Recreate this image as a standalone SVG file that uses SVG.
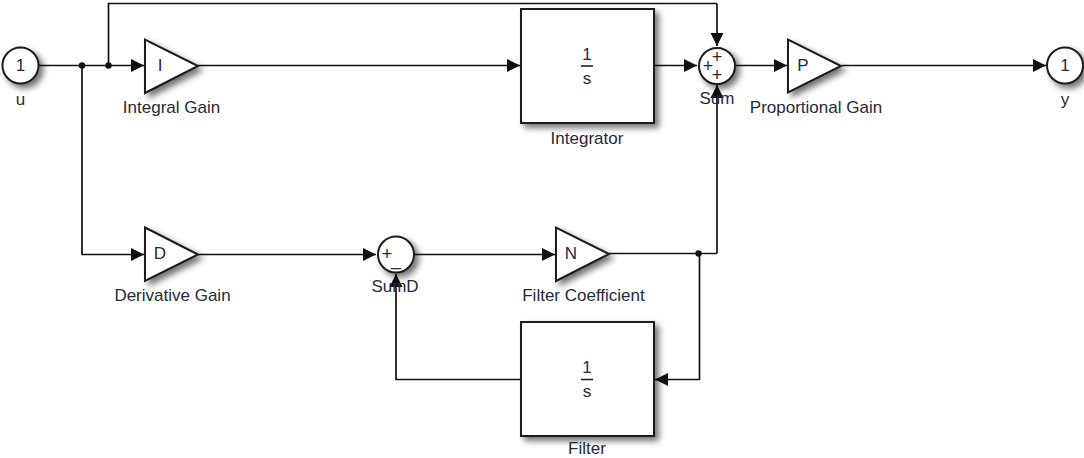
<svg xmlns="http://www.w3.org/2000/svg" width="1084" height="458" viewBox="0 0 1084 458">
<style>
text{font-family:"Liberation Sans",Arial,sans-serif;font-size:17px;fill:#262a3a;text-anchor:middle}
.b{fill:#fff;stroke:#1c1c1c;stroke-width:2;filter:url(#sh)}
.w{fill:none;stroke:#111;stroke-width:1.7;stroke-linejoin:miter}
.a{marker-end:url(#ah)}
.d{fill:#111}
.f{stroke:#222;stroke-width:1.6}
.m{font-size:18px}
</style>
<defs>
<marker id="ah" markerUnits="userSpaceOnUse" markerWidth="14" markerHeight="14" refX="13" refY="7" orient="auto"><path d="M0 0.5L13 7L0 13.5z" fill="#111"/></marker>
<filter id="sh" x="-20%" y="-20%" width="150%" height="150%"><feDropShadow dx="4" dy="4" stdDeviation="3" flood-color="#000" flood-opacity="0.55"/></filter>
</defs>
<rect width="1084" height="458" fill="#fff"/>
<g id="connectors">
<path class="w a" d="M39 65.5H144"/>
<path class="w" d="M108.500 65.500V3.500H717"/>
<path class="w a" d="M717 3.500V46"/>
<path class="w a" d="M82 65.500V254.500H144"/>
<path class="w a" d="M198 65.500H520"/>
<path class="w a" d="M654 65.500H697"/>
<path class="w a" d="M736 65.500H787"/>
<path class="w a" d="M842 65.500H1046"/>
<path class="w a" d="M198 254.500H376"/>
<path class="w a" d="M415 254.500H555"/>
<path class="w" d="M609 253.500H717"/>
<path class="w a" d="M717 253.500V85"/>
<path class="w a" d="M699.500 253.500V379.500H655"/>
<path class="w a" d="M520 379.500H396V274"/>
<circle class="d" cx="82" cy="65.500" r="3.200"/>
<circle class="d" cx="108.500" cy="65.500" r="3.200"/>
<circle class="d" cx="698.500" cy="253.500" r="3.200"/>
</g>
<g id="u"><circle class="b" cx="20.500" cy="65.500" r="18"/><text x="20.500" y="71">1</text><text x="20.500" y="105">u</text></g>
<g id="integral-gain"><polygon class="b" points="145,39.500 145,93 198,66"/><text x="160" y="71">I</text><text x="171.500" y="113">Integral Gain</text></g>
<g id="integrator"><rect class="b" x="521" y="9" width="133" height="114"/><text x="587" y="59.500">1</text><path class="f" d="M581 66H593"/><text x="587" y="84">s</text><text x="587" y="144">Integrator</text></g>
<g id="sum"><circle class="b" cx="717" cy="66" r="18"/><text class="m" x="717" y="63">+</text><text class="m" x="708" y="72">+</text><text class="m" x="717" y="81">+</text><text x="717" y="104">Sum</text></g>
<g id="proportional-gain"><polygon class="b" points="788,39.500 788,92.500 841,66"/><text x="803" y="71">P</text><text x="816" y="113">Proportional Gain</text></g>
<g id="y"><circle class="b" cx="1065" cy="65.500" r="18"/><text x="1065" y="71">1</text><text x="1065" y="105">y</text></g>
<g id="derivative-gain"><polygon class="b" points="145,227.500 145,281 198,254.500"/><text x="160" y="259">D</text><text x="172.500" y="301">Derivative Gain</text></g>
<g id="sumd"><circle class="b" cx="396" cy="254.500" r="18"/><text class="m" x="387" y="260">+</text><text class="m" x="396" y="265">_</text><text x="395" y="292">SumD</text></g>
<g id="filter-coefficient"><polygon class="b" points="556,227.500 556,281 609,254"/><text x="571" y="259">N</text><text x="583.500" y="301">Filter Coefficient</text></g>
<g id="filter"><rect class="b" x="521" y="322" width="133" height="114"/><text x="587" y="372.500">1</text><path class="f" d="M581 379.500H593"/><text x="587" y="397">s</text><text x="587" y="454">Filter</text></g>
</svg>
